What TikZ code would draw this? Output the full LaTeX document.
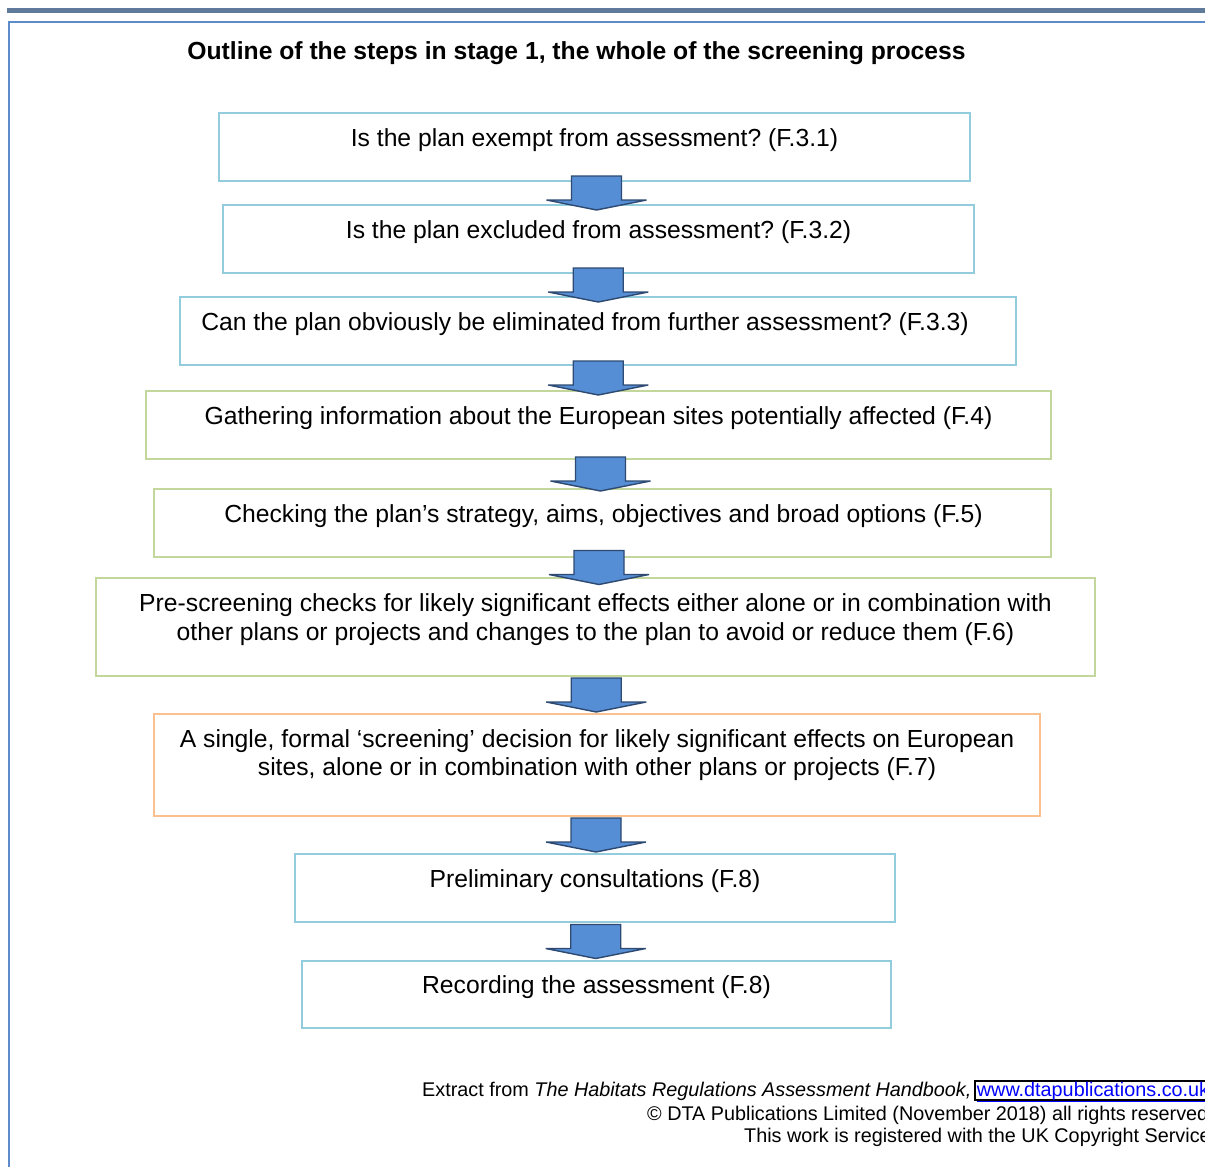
\documentclass[tikz,border=0pt]{standalone}
\usepackage{fontspec}
\setmainfont{Liberation Sans}
\usetikzlibrary{calc}
\frenchspacing
\definecolor{barcol}{HTML}{5F7A9B}
\definecolor{framecol}{HTML}{5E8CCB}
\definecolor{cyanb}{HTML}{93CDDD}
\definecolor{greenb}{HTML}{C3D69B}
\definecolor{orangeb}{HTML}{FAC090}
\definecolor{arrfill}{HTML}{558ED5}
\definecolor{arredge}{HTML}{2E4A72}
\definecolor{linkblue}{HTML}{0000FF}
\begin{document}
\begin{tikzpicture}[x=1pt,y=-1pt,
  box/.style={draw, line width=2pt, minimum height=68pt, inner sep=0pt, anchor=north west},
  txt/.style={anchor=base, inner sep=0pt, font=\fontsize{24.7}{29}\selectfont},
  titletxt/.style={anchor=base, inner sep=0pt, font=\fontsize{24.7}{29}\selectfont\bfseries},
  foot/.style={anchor=base west, inner sep=0pt, font=\fontsize{19.8}{22.7}\selectfont},
  linkbox/.style={anchor=base west, draw=black, line width=1.8pt, text=linkblue,
    inner xsep=2pt, inner ysep=0.8pt, text height=14.6pt, text depth=3.4pt,
    font=\fontsize{19.8}{22.7}\selectfont},
  dnarrow/.pic={\draw[fill=arrfill, draw=arredge, line width=1.4pt, line join=miter]
    (-25,-17) -- (25,-17) -- (25,7) -- (50,7) -- (0,17) -- (-50,7) -- (-25,7) -- cycle;}
]
\clip (0,0) rectangle (1205,1167);
\fill[white] (0,0) rectangle (1205,1167);
% page decoration
\fill[barcol] (7,7.6) rectangle (1210,12.6);
\draw[framecol, line width=2.2pt] (9,1180) -- (9,22) -- (1215,22);

% title
\node[titletxt] (title) at (576.5,59) {Outline of the steps in stage 1, the whole of the screening process};

% boxes
\node[box, draw=cyanb, minimum width=751pt] (b1) at (218,112) {};
\node[box, draw=cyanb, minimum width=751pt] (b2) at (222,204) {};
\node[box, draw=cyanb, minimum width=836pt] (b3) at (179,296) {};
\node[box, draw=greenb, minimum width=905pt] (b4) at (145,390) {};
\node[box, draw=greenb, minimum width=897pt] (b5) at (153,488) {};
\node[box, draw=greenb, minimum width=999pt, minimum height=98pt] (b6) at (95,577) {};
\node[box, draw=orangeb, minimum width=886pt, minimum height=102pt] (b7) at (153,713) {};
\node[box, draw=cyanb, minimum width=600pt] (b8) at (294,853) {};
\node[box, draw=cyanb, minimum width=589pt, minimum height=67pt] (b9) at (301,960) {};

% texts
\node[txt] (t1) at ([yshift=-34pt]b1.north) {Is the plan exempt from assessment? (F.3.1)};
\node[txt] (t2) at ([yshift=-34pt]b2.north) {Is the plan excluded from assessment? (F.3.2)};
\node[txt] (t3) at ([xshift=-13pt,yshift=-34pt]b3.north) {Can the plan obviously be eliminated from further assessment? (F.3.3)};
\node[txt] (t4) at ([yshift=-34pt]b4.north) {Gathering information about the European sites potentially affected (F.4)};
\node[txt] (t5) at ([xshift=1pt,yshift=-34pt]b5.north) {Checking the plan’s strategy, aims, objectives and broad options (F.5)};
\node[txt] (t6a) at ([yshift=-34pt]b6.north) {Pre-screening checks for likely significant effects either alone or in combination with};
\node[txt] (t6b) at ([yshift=-63pt]b6.north) {other plans or projects and changes to the plan to avoid or reduce them (F.6)};
\node[txt] (t7a) at ([yshift=-34pt]b7.north) {A single, formal ‘screening’ decision for likely significant effects on European};
\node[txt] (t7b) at ([yshift=-62pt]b7.north) {sites, alone or in combination with other plans or projects (F.7)};
\node[txt] (t8) at ([yshift=-34pt]b8.north) {Preliminary consultations (F.8)};
\node[txt] (t9) at ([yshift=-33pt]b9.north) {Recording the assessment (F.8)};

% block arrows between boxes
\pic at ($(b1.south)!0.5!(b2.north)$) {dnarrow};
\pic at ($(b2.south)!0.5!(b3.north)$) {dnarrow};
\pic at ($(b3.south)!0.5!(b4.north)$) {dnarrow};
\pic at ($(b4.south)!0.5!(b5.north)$) {dnarrow};
\pic at ($(b5.south)!0.5!(b6.north)$) {dnarrow};
\pic at ($(b6.south)!0.5!(b7.north)$) {dnarrow};
\pic at ($(b7.south)!0.5!(b8.north)$) {dnarrow};
\pic at ($(b8.south)!0.5!(b9.north)$) {dnarrow};

% footer
\node[foot] (f1) at (422,1096) {Extract from \textit{The Habitats Regulations Assessment Handbook,}};
\node[linkbox] (lnk) at (974,1096) {\underline{www.dtapublications.co.uk}};
\node[foot] (f2) at (647,1120) {\textcopyright{} DTA Publications Limited (November 2018) all rights reserved};
\node[foot] (f3) at (744,1142) {This work is registered with the UK Copyright Service};
\end{tikzpicture}
\end{document}
